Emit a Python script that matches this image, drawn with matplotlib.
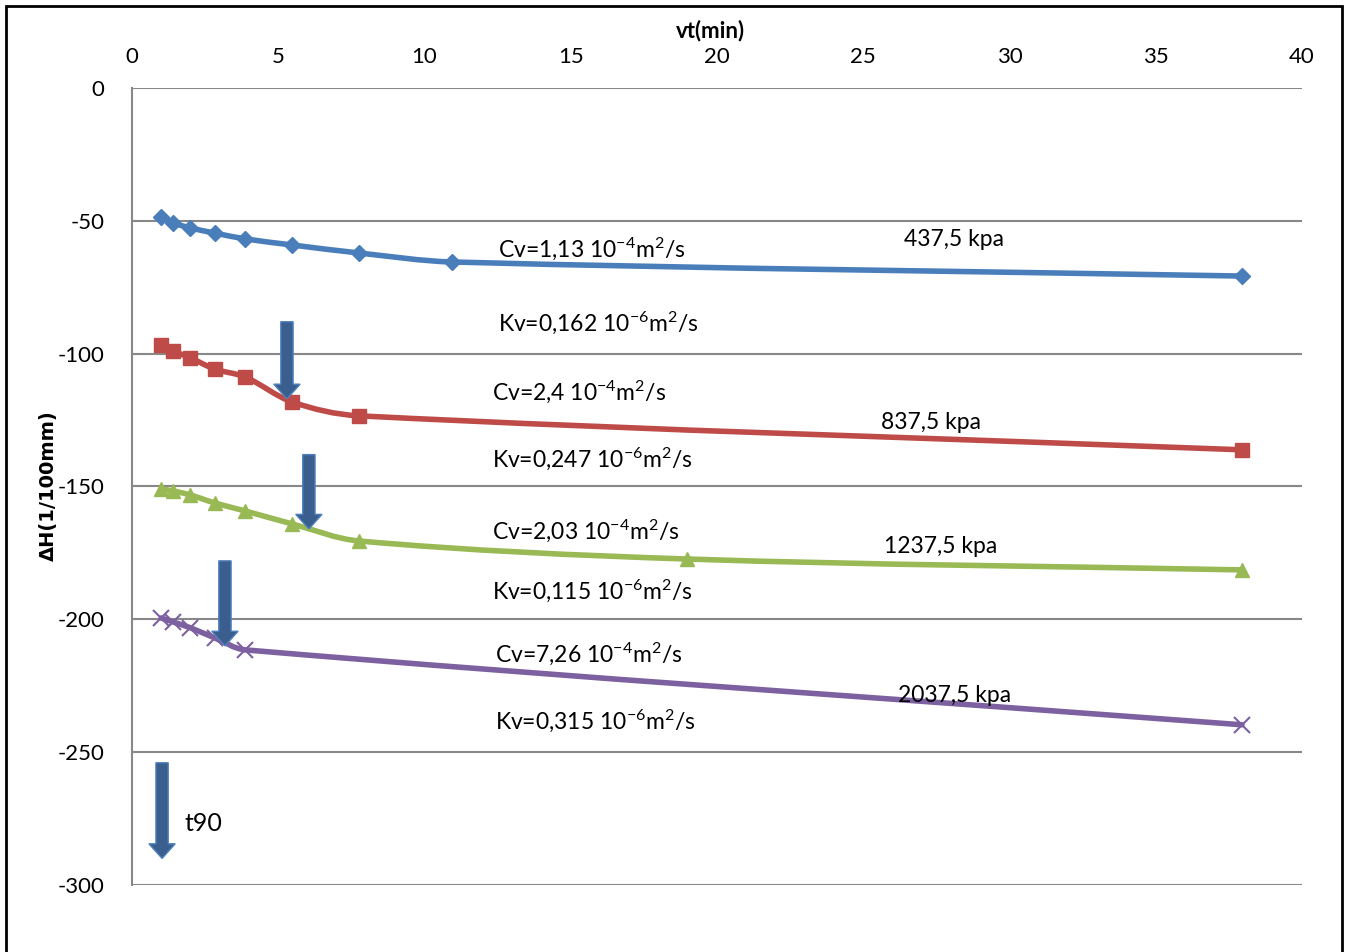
import numpy as np
import matplotlib
matplotlib.use("Agg")
import matplotlib.pyplot as plt
from matplotlib.path import Path
from matplotlib.patches import PathPatch, FancyArrow, Rectangle

plt.rcParams['font.family'] = ['Lato', 'DejaVu Sans']
plt.rcParams['axes.unicode_minus'] = False
plt.rcParams['mathtext.fontset'] = 'custom'
plt.rcParams['mathtext.rm'] = 'Lato'
plt.rcParams['mathtext.default'] = 'regular'

# ---------- Data (x = sqrt(t), y = dH in 1/100 mm) ----------
x_blue = [1.0, 1.41, 2.0, 2.83, 3.87, 5.48, 7.75, 10.95, 37.95]
y_blue = [-48.6, -50.8, -52.7, -54.6, -56.8, -59.1, -62.1, -65.5, -70.8]

x_red = [1.0, 1.41, 2.0, 2.83, 3.87, 5.48, 7.75, 37.95]
y_red = [-96.7, -99.0, -101.6, -105.8, -108.8, -118.2, -123.4, -136.2]

x_green = [1.0, 1.41, 2.0, 2.83, 3.87, 5.48, 7.75, 18.97, 37.95]
y_green = [-150.9, -151.7, -153.2, -156.2, -159.2, -164.1, -170.5, -177.3, -181.4]

x_purple = [1.0, 1.41, 2.0, 2.83, 3.87, 37.95]
y_purple = [-199.5, -201.0, -203.2, -207.0, -211.5, -239.7]

loads = ["437,5 kpa", "837,5 kpa", "1237,5 kpa", "2037,5 kpa"]
cv_values = ["1,13", "2,4", "2,03", "7,26"]
kv_values = ["0,162", "0,247", "0,115", "0,315"]

# t90 arrows: x, y start, y end
t90_x = [5.3, 6.05, 3.18]
t90_y0 = [-88, -138, -178]
t90_y1 = [-117, -166, -210]

# label positions
cv_pos = [(12.5, -60.5), (12.3, -114.5), (12.3, -166.5), (12.4, -212.8)]
kv_pos = [(12.5, -88.5), (12.3, -139.5), (12.3, -189.2), (12.4, -238.3)]
load_pos = [(26.4, -57.0), (25.6, -126.0), (25.7, -172.5), (26.2, -228.5)]

colors = ["#4A7EBB", "#BE4B48", "#98B954", "#7D60A0"]
markers = ["D", "s", "^", "x"]
msizes = [8, 10, 10, 11]

# pixel scale per data unit, used only to measure segment lengths for smoothing
SX, SY = 29.25, 2.657


def smooth_path(xs, ys):
    # smoothed line (length-weighted Catmull-Rom bezier), similar to Excel's
    pts = np.column_stack([xs, ys]).astype(float)
    sc = np.array([SX, SY])
    n = len(pts)

    def d(a, b):
        return np.hypot(*((b - a) * sc))

    verts = [pts[0]]
    codes = [Path.MOVETO]
    for i in range(n - 1):
        p0 = pts[i - 1] if i > 0 else pts[i]
        p1 = pts[i]
        p2 = pts[i + 1]
        p3 = pts[i + 2] if i + 2 < n else pts[i + 1]
        d01, d12, d23 = d(p0, p1), d(p1, p2), d(p2, p3)
        c1 = p1 + (p2 - p0) * d12 / (3.0 * (d01 + d12))
        c2 = p2 - (p3 - p1) * d12 / (3.0 * (d12 + d23))
        verts += [c1, c2, p2]
        codes += [Path.CURVE4] * 3
    return Path(verts, codes)


fig = plt.figure(figsize=(13.49, 9.52), dpi=100)
ax = fig.add_axes([0.0978, 0.0704, 0.8673, 0.8372])

series = [(x_blue, y_blue), (x_red, y_red), (x_green, y_green), (x_purple, y_purple)]
for (xs, ys), c, m, ms in zip(series, colors, markers, msizes):
    ax.add_patch(PathPatch(smooth_path(xs, ys), fill=False, ec=c, lw=4, zorder=3,
                           capstyle='round', joinstyle='round'))
    if m == "x":
        ax.plot(xs, ys, ls='none', marker=m, ms=ms, mec=c, mew=1.5, zorder=4)
    else:
        ax.plot(xs, ys, ls='none', marker=m, ms=ms, mfc=c, mec=c, zorder=4)

# ---------- Arrows ----------
def t90_arrow(x, y0, y1):
    ax.add_patch(FancyArrow(x, y0, 0, y1 - y0, width=0.42, head_width=0.9,
                            head_length=5.5, length_includes_head=True,
                            fc="#3A5F8F", ec="#4F81BD", lw=1, zorder=5))

for x, y0, y1 in zip(t90_x, t90_y0, t90_y1):
    t90_arrow(x, y0, y1)
t90_arrow(1.03, -254, -290)
ax.text(1.8, -277, "t90", fontsize=18, va='center', ha='left')

# ---------- Texts ----------
for i in range(4):
    cv = "Cv=" + cv_values[i] + " 10$^{-4}$m$^{2}$/s"
    kv = "Kv=" + kv_values[i] + " 10$^{-6}$m$^{2}$/s"
    ax.text(cv_pos[i][0], cv_pos[i][1], cv, fontsize=16.5, va='center', ha='left', zorder=6)
    ax.text(kv_pos[i][0], kv_pos[i][1], kv, fontsize=16.5, va='center', ha='left', zorder=6)
    ax.text(load_pos[i][0], load_pos[i][1], loads[i], fontsize=16.5, va='center', ha='left', zorder=6)

# ---------- Axes styling ----------
ax.set_xlim(0, 40)
ax.set_ylim(-300, 0)
ax.set_xticks(range(0, 41, 5))
ax.set_yticks(range(-300, 1, 50))
ax.xaxis.tick_top()
ax.tick_params(axis='x', length=0, pad=15, labelsize=16)
ax.tick_params(axis='y', length=0, pad=20, labelsize=16)
ax.yaxis.grid(True, color="#888888", lw=1.5)
ax.set_axisbelow(True)
for s in ["top", "right", "bottom"]:
    ax.spines[s].set_visible(False)
ax.spines["left"].set_color("#888888")
ax.spines["left"].set_linewidth(1.5)

fig.text(0.527, 0.968, "vt(min)", fontsize=16, fontweight='bold', ha='center', va='center')
fig.text(0.036, 0.49, "ΔH(1/100mm)", fontsize=14, fontweight='bold', rotation=90,
         ha='center', va='center', family='DejaVu Sans')

# outer frame
fig.patches.append(Rectangle((6 / 1349, -0.05), (1342 - 6) / 1349, 1.05 - 6 / 952,
                             transform=fig.transFigure, fill=False, ec='black', lw=2))

fig.savefig("out.png", dpi=100)
